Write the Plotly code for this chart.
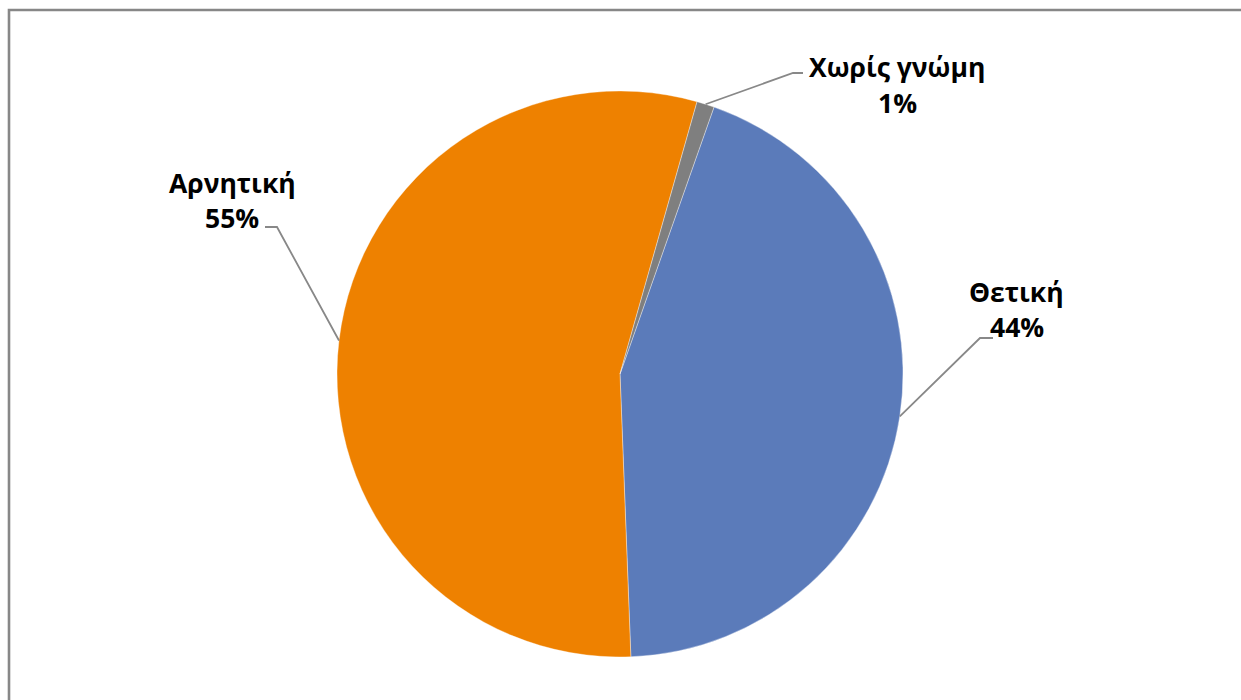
import math
import plotly.graph_objects as go

# ---- data ----
categories = ["Θετική", "Αρνητική", "Χωρίς γνώμη"]
values = [44, 55, 1]
colors = ["#5B7BBA", "#EE8100", "#7F7F7F"]

# ---- layout constants (pixels) ----
W, H = 1241, 700
CX, CY, R = 620, 374, 283
ROTATION = 19.4
# label placement: (text center x, name line y, percent line y, elbow x, elbow y, end x)
label_layout = {
    "Θετική": (1017, 292, 327, 980, 338, 993),
    "Αρνητική": (232, 183, 218, 277, 227, 265),
    "Χωρίς γνώμη": (897, 67, 103, 793, 73, 803),
}
FONT = "Open Sans"
FSIZE = 26.5

def px(x):
    return x / W

def py(y):
    return 1 - y / H

fig = go.Figure(
    go.Pie(
        labels=categories,
        values=values,
        sort=False,
        direction="clockwise",
        rotation=ROTATION,
        marker=dict(colors=colors, line=dict(color="rgba(255,255,255,0.6)", width=0.6)),
        textinfo="none",
        hoverinfo="label+percent",
        showlegend=False,
        domain=dict(x=[px(CX - R), px(CX + R)], y=[py(CY + R), py(CY - R)]),
    )
)

total = sum(values)
shapes = []
annotations = []
angle = ROTATION
for cat, v in zip(categories, values):
    span = v / total * 360
    mid = math.radians(angle + span / 2)
    angle += span
    ex, ey = CX + R * math.sin(mid), CY - R * math.cos(mid)
    tx, ny, pyy, bx, by, endx = label_layout[cat]
    shapes.append(dict(
        type="path", xref="paper", yref="paper",
        path=f"M {px(ex)} {py(ey)} L {px(bx)} {py(by)} L {px(endx)} {py(by)}",
        line=dict(color="#888888", width=1.8),
    ))
    pct = f"{round(v / total * 100)}%"
    for txt, yy in ((cat, ny), (pct, pyy)):
        annotations.append(dict(
            x=px(tx), y=py(yy), xref="paper", yref="paper", text=f"<b>{txt}</b>",
            showarrow=False, xanchor="center", yanchor="middle",
            font=dict(family=FONT, size=FSIZE, color="#000000"),
        ))

# chart border: only its top and left edges fall inside the picture
shapes.append(dict(
    type="path", xref="paper", yref="paper",
    path=f"M {px(9)} -0.05 L {px(9)} {py(10)} L 1.05 {py(10)}",
    line=dict(color="#878787", width=2.6),
))

fig.update_layout(
    width=W, height=H,
    margin=dict(l=0, r=0, t=0, b=0),
    paper_bgcolor="white", plot_bgcolor="white",
    shapes=shapes, annotations=annotations,
)

fig.write_html(
    "out.html",
    config={"displayModeBar": False},
    post_script="document.body.style.margin='0';document.body.style.overflow='hidden';",
)
